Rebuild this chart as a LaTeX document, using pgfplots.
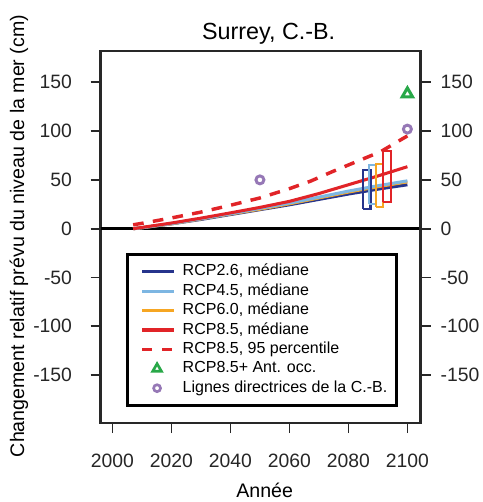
\documentclass[border=0pt]{standalone}
\usepackage{pgfplots}
\pgfplotsset{compat=1.18}
\usepackage{fontspec}
\setmainfont{Liberation Sans}
\definecolor{cDB}{RGB}{38,52,140}
\definecolor{cLB}{RGB}{125,182,226}
\definecolor{cOR}{RGB}{246,166,35}
\definecolor{cRD}{RGB}{225,36,40}
\definecolor{cGR}{RGB}{40,168,72}
\definecolor{cPU}{RGB}{150,120,182}
\definecolor{cAX}{RGB}{40,40,40}
\begin{document}
\begin{tikzpicture}
\useasboundingbox (-75.5pt,-59.25pt) rectangle (286pt,317.25pt);
\begin{axis}[
  at={(0pt,0pt)}, anchor=south west,
  scale only axis, width=240pt, height=279pt,
  xmin=1996, xmax=2104.5, ymin=-199, ymax=182,
  xtick={2000,2020,2040,2060,2080,2100},
  ytick={-150,-100,-50,0,50,100,150},
  xtick pos=bottom, ytick pos=left, tick align=outside,
  major tick length=7.5pt,
  axis line style={line width=2pt, cAX},
  tick style={line width=1.3pt, cAX},
  /pgf/number format/assume math mode=true,
  /pgf/number format/1000 sep={},
  tick label style={font=\fontsize{14.5}{17}\selectfont, text=black!85},
  xticklabel style={yshift=-12pt},
  yticklabel style={xshift=-10.5pt},
  clip=false,
  legend cell align=left,
  legend style={at={(rel axis cs:0.079,0.457)}, anchor=north west,
    draw=black, line width=2.2pt, inner xsep=7pt, inner ysep=7.5pt,
    row sep=3.55pt, column sep=5pt,
    font=\fontsize{12}{14}\selectfont,
    nodes={inner xsep=0pt, inner ysep=0pt, text height=8.6pt, text depth=2.4pt}},
  legend image code/.code={\path (0pt,0pt); \draw[#1] (3pt,0pt) -- (27pt,0pt);},
]
% zero line
\addplot[forget plot, black, line width=2pt] coordinates {(1996,0) (2104.5,0)};
% median curves
\addplot[forget plot, cDB, line width=2.3pt] coordinates {
(2007,0) (2010,1) (2020,5) (2030,9.5) (2040,14.5) (2050,19.5) (2060,24.5) (2070,30) (2080,35.5) (2090,40.5) (2100,45)};
\addplot[forget plot, cOR, line width=2.3pt] coordinates {
(2007,0) (2010,1) (2020,5) (2030,10) (2040,15) (2050,20) (2060,25.5) (2070,31.5) (2080,37.5) (2090,43) (2100,48)};
\addplot[forget plot, cLB, line width=2.3pt] coordinates {
(2007,0) (2010,1) (2020,5.2) (2030,10.2) (2040,15.3) (2050,20.8) (2060,26.3) (2070,32.3) (2080,38.5) (2090,44) (2100,49)};
\addplot[forget plot, cRD, line width=2.3pt] coordinates {
(2007,0) (2010,1.3) (2020,5.8) (2030,10.8) (2040,16.2) (2050,21.8) (2060,28) (2070,36) (2080,45) (2090,54) (2100,63.5)};
% range boxes
\addplot[forget plot, cDB, line width=1.6pt] coordinates {(2085,20) (2087.5,20) (2087.5,60) (2085,60) (2085,20)};
\addplot[forget plot, cLB, line width=1.6pt] coordinates {(2087,25) (2089.3,25) (2089.3,65) (2087,65) (2087,25)};
\addplot[forget plot, cOR, line width=1.6pt] coordinates {(2089.5,22) (2091.8,22) (2091.8,66) (2089.5,66) (2089.5,22)};
\addplot[forget plot, cRD, line width=1.6pt] coordinates {(2091.6,27) (2094.5,27) (2094.5,80) (2091.6,80) (2091.6,27)};
% 95 percentile
\addplot[forget plot, cRD, line width=2.6pt, dash pattern=on 8pt off 7pt] coordinates {
(2007,4) (2010,5.5) (2020,11) (2030,17) (2040,24) (2050,31.5) (2060,41) (2067,48.5) (2075,59) (2083,69) (2091,79) (2098,91.5) (2100,95)};
% markers
\addplot[forget plot, only marks, cGR, mark=triangle, mark size=4.5pt, mark options={line width=2.3pt}] coordinates {(2100,138)};
\addplot[forget plot, only marks, cPU, mark=o, mark size=3pt, mark options={line width=2.2pt}] coordinates {(2050,50) (2100,102)};
% legend
\addlegendimage{cDB, line width=2.5pt}
\addlegendentry{RCP2.6, médiane}
\addlegendimage{cLB, line width=2.5pt}
\addlegendentry{RCP4.5, médiane}
\addlegendimage{cOR, line width=2.5pt}
\addlegendentry{RCP6.0, médiane}
\addlegendimage{cRD, line width=2.5pt}
\addlegendentry{RCP8.5, médiane}
\addlegendimage{cRD, line width=2.5pt, dash pattern=on 7.5pt off 7.5pt}
\addlegendentry{RCP8.5, 95 percentile}
\addlegendimage{legend image code/.code={\path (0pt,0pt) (27pt,0pt); \draw[cGR, line width=2pt] plot[mark=triangle, mark size=3.8pt] coordinates {(14pt,0pt)};}}
\addlegendentry{RCP8.5+ Ant. occ.}
\addlegendimage{legend image code/.code={\path (0pt,0pt) (27pt,0pt); \draw[cPU, line width=2pt] plot[mark=o, mark size=2.6pt] coordinates {(14pt,0pt)};}}
\addlegendentry{Lignes directrices de la C.-B.}
\end{axis}
\begin{axis}[
  at={(0pt,0pt)}, anchor=south west,
  scale only axis, width=240pt, height=279pt,
  xmin=1996, xmax=2104.5, ymin=-199, ymax=182,
  hide x axis, axis y line*=right,
  ytick={-150,-100,-50,0,50,100,150},
  tick align=outside, major tick length=7.5pt,
  axis line style={line width=2pt, cAX},
  tick style={line width=1.3pt, cAX},
  /pgf/number format/assume math mode=true,
  tick label style={font=\fontsize{14.5}{17}\selectfont, text=black!85},
  yticklabel style={xshift=4pt},
]
\addplot[draw=none, forget plot] coordinates {(2000,0)};
\end{axis}
\node[font=\fontsize{17.5}{20}\selectfont] at (126pt,292pt) {Surrey, C.-B.};
\node[font=\fontsize{14.7}{17}\selectfont, rotate=90] at (-61.3pt,140.3pt) {Changement relatif prévu du niveau de la mer (cm)};
\node[font=\fontsize{14.7}{17}\selectfont] at (123pt,-50.6pt) {Année};
\end{tikzpicture}
\end{document}
